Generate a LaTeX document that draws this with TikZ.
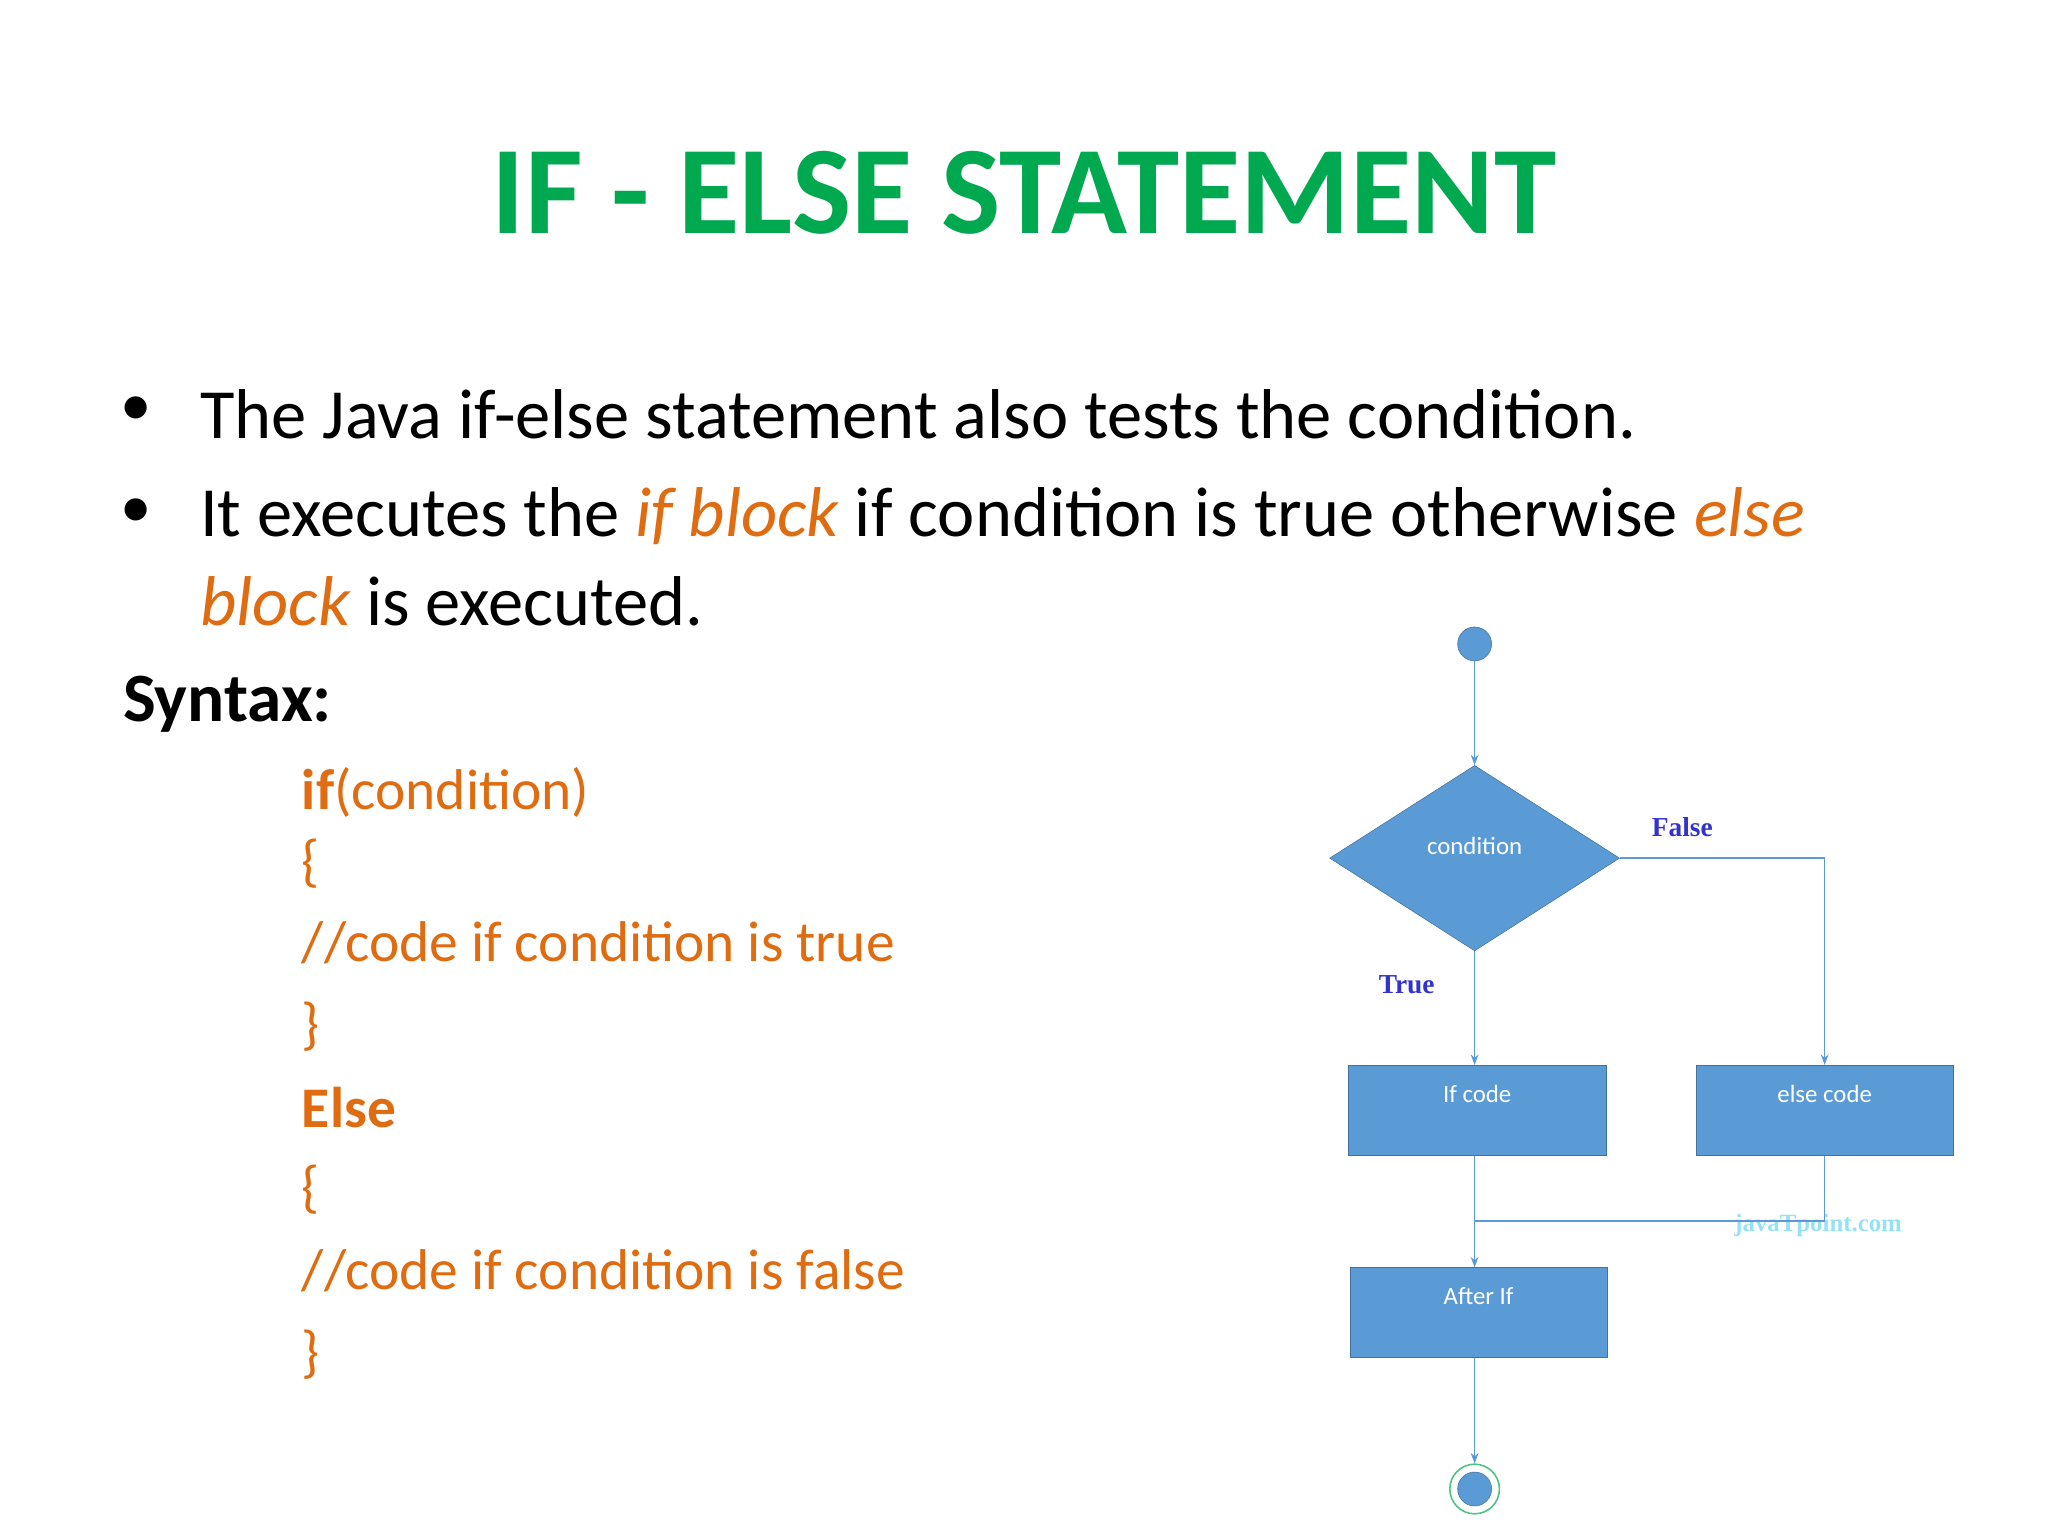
\documentclass[tikz,border=0pt]{standalone}
\usepackage{fontspec}
\setmainfont{Carlito}
\newfontfamily\serifb{Liberation Serif}
\usetikzlibrary{shapes.geometric,arrows.meta}
\definecolor{ttl}{RGB}{0,168,80}
\definecolor{glow}{RGB}{150,225,245}
\definecolor{orng}{RGB}{224,108,18}
\definecolor{bfill}{RGB}{91,155,213}
\definecolor{bline}{RGB}{65,113,156}
\definecolor{lblue}{RGB}{51,51,204}
\tikzset{
 box/.style={draw=bline,fill=bfill,minimum width=197pt,minimum height=69pt,text=white,font=\fontsize{19}{21}\selectfont,inner sep=0pt},
 conn/.style={draw=bfill,line width=1.2pt,-{Stealth[length=8pt,width=6pt]}},
 plain/.style={draw=bfill,line width=1.2pt},
 code/.style={anchor=west,text=orng,font=\fontsize{44}{48}\selectfont,inner sep=0pt},
 bul/.style={anchor=west,font=\fontsize{54}{58}\selectfont,inner sep=0pt},
 lbl/.style={text=lblue,font=\serifb\bfseries\fontsize{21}{23}\selectfont}
}
\begin{document}
\begin{tikzpicture}[x=1pt,y=-1pt]
\useasboundingbox (0,0) rectangle (1568,1176);
% title
\node (title) [text=ttl,draw=none,font=\bfseries\fontsize{96}{100}\selectfont] at (784,148) {IF - ELSE STATEMENT};
% bullets
\node (b1d) at (104,315) {\fontsize{48}{50}\selectfont •};
\node (b1) [bul] at (153,317) {The Java if-else statement also tests the condition.};
\node (b2d) at (104,393) {\fontsize{48}{50}\selectfont •};
\node (b2) [bul] at (153,395) {It executes the \textcolor{orng}{\itshape if block} if condition is true otherwise \textcolor{orng}{\itshape else}};
\node (b3) [bul] at (153,460) {\textcolor{orng}{\itshape block} is executed.};
\node (syn) [anchor=west,font=\bfseries\fontsize{53}{56}\selectfont,inner sep=0pt] at (94,539) {Syntax:};
% code
\node (c1) [code] at (231,607) {\textbf{if}(condition)};
\node (c2) [code] at (231,661) {\{};
\node (c3) [code] at (231,722) {//code if condition is true};
\node (c4) [code] at (231,786) {\}};
\node (c5) [code] at (231,848) {\textbf{Else}};
\node (c6) [code] at (231,911) {\{};
\node (c7) [code] at (231,973) {//code if condition is false};
\node (c8) [code] at (231,1037) {\}};
% flowchart
\node (start) [circle,fill=bfill,draw=bline,minimum size=26pt,inner sep=0pt] at (1129,493) {};
\node (cond) [diamond,fill=bfill,draw=bline,minimum width=222pt,minimum height=142pt,inner sep=0pt] at (1129,657) {};
\node (condt) [text=white,font=\fontsize{19}{21}\selectfont] at (1129,648) {condition};
\node (ifc) [box,text depth=25pt] at (1131,850) {If code};
\node (elc) [box,text depth=25pt] at (1397,850) {else code};
\node (aft) [box,text depth=25pt] at (1132,1005) {After If};
\node (endo) [circle,draw=ttl!70,line width=1.2pt,minimum size=38pt,inner sep=0pt] at (1129,1140) {};
\node (endi) [circle,fill=bfill,draw=bline,minimum size=26pt,inner sep=0pt] at (1129,1140) {};
\node (wm) [text=glow,font=\serifb\bfseries\fontsize{19}{20}\selectfont] at (1392,938) {javaTpoint.com};
\node (tl) [lbl] at (1077,754) {True};
\node (fl) [lbl] at (1288,633) {False};
\coordinate (m) at (1129,935);
\draw[conn] (start) -- (cond.north);
\draw[conn] (cond.south) -- (cond.south |- ifc.north);
\draw[conn] (cond.east) -| (elc.north);
\draw[plain] (elc.south) |- (m);
\draw[conn] (cond.south |- ifc.south) -- (cond.south |- aft.north);
\draw[conn] (cond.south |- aft.south) -- (endo.north);
\end{tikzpicture}
\end{document}
